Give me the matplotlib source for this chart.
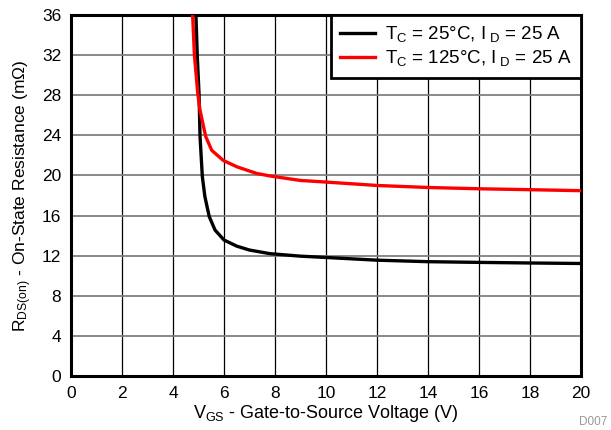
import matplotlib
matplotlib.use("Agg")
import matplotlib.pyplot as plt

plt.rcParams['font.family'] = ['Liberation Sans', 'DejaVu Sans']
plt.rcParams['mathtext.fontset'] = 'custom'
plt.rcParams['mathtext.rm'] = 'Liberation Sans'
plt.rcParams['mathtext.it'] = 'Liberation Sans'

vgs_25 = [4.90, 4.95, 5.02, 5.06, 5.15, 5.25, 5.42, 5.65, 6.0, 6.5, 7.0, 7.8, 9.0, 10.0, 12.0, 14.0, 16.0, 18.0, 20.0]
rds_25 = [36.0, 32.0, 28.2, 23.9, 19.9, 17.9, 15.9, 14.55, 13.56, 12.95, 12.56, 12.2, 11.95, 11.82, 11.55, 11.4, 11.33, 11.27, 11.22]
vgs_125 = [4.77, 4.84, 4.97, 5.06, 5.28, 5.52, 5.97, 6.5, 7.28, 7.8, 9.0, 10.0, 12.0, 14.0, 16.0, 18.0, 20.0]
rds_125 = [36.0, 32.0, 28.2, 26.5, 23.9, 22.5, 21.5, 20.87, 20.2, 19.95, 19.5, 19.34, 19.0, 18.8, 18.67, 18.58, 18.48]

x_ticks = list(range(0, 21, 2))
y_ticks = list(range(0, 37, 4))
labels = [r'T$_\mathrm{C}$ = 25°C, I$_\mathrm{\ D}$ = 25 A',
          r'T$_\mathrm{C}$ = 125°C, I$_\mathrm{\ D}$ = 25 A']

fig = plt.figure(figsize=(6.11, 4.30), dpi=100)
ax = fig.add_axes([71/611, 1 - 376/430, 510/611, 361/430])

ax.plot(vgs_25, rds_25, color='black', lw=2.4, label=labels[0], zorder=3)
ax.plot(vgs_125, rds_125, color='#ff0000', lw=2.4, label=labels[1], zorder=3)

ax.set_xlim(0, 20)
ax.set_ylim(0, 36)
ax.set_xticks(x_ticks)
ax.set_yticks(y_ticks)
ax.tick_params(length=0, labelsize=12.5, pad=7)
for x in x_ticks[1:-1]:
    ax.axvline(x, color='black', lw=0.9, zorder=1)
for y in y_ticks[1:-1]:
    ax.axhline(y, color='#808080', lw=1.3, zorder=1)
for s in ax.spines.values():
    s.set_linewidth(2.2)

ax.set_xlabel(r'V$_\mathrm{GS}$ - Gate-to-Source Voltage (V)', fontsize=13, labelpad=2)
ax.set_ylabel(r'R$_\mathrm{DS(on)}$ - On-State Resistance (mΩ)', fontsize=12.5, labelpad=6)

leg = ax.legend(loc='upper right', fontsize=13.5, frameon=True, fancybox=False,
                borderaxespad=0, handlelength=1.87, labelspacing=0.2,
                borderpad=0.5, handletextpad=0.53)
leg.get_frame().set_edgecolor('black')
leg.get_frame().set_linewidth(2.0)
leg.get_frame().set_alpha(1)

fig.text(579/611, 1 - 416/430, 'D007', fontsize=8.5, color='#999999', ha='left', va='top')

fig.savefig('out.png', dpi=100)
